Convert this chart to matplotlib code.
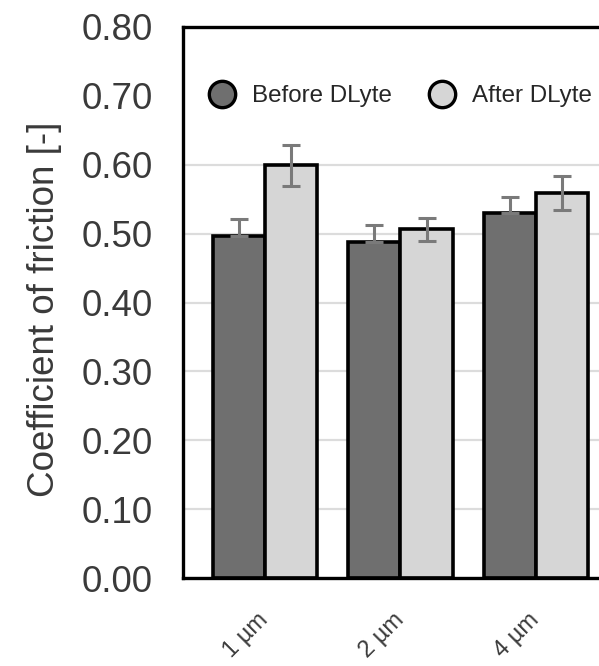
import matplotlib
matplotlib.use("Agg")
import matplotlib.pyplot as plt
import numpy as np
from matplotlib.lines import Line2D
from matplotlib.ticker import FormatStrFormatter

# data
sizes = ["1 \u00b5m", "2 \u00b5m", "4 \u00b5m"]
before = [0.497, 0.488, 0.530]
after = [0.599, 0.506, 0.559]
before_err = [0.024, 0.024, 0.023]
after_err = [0.030, 0.017, 0.024]
yticks = [0.0, 0.1, 0.2, 0.3, 0.4, 0.5, 0.6, 0.7, 0.8]

DARK = "#6f6f6f"
LIGHT = "#d6d6d6"
TXT = "#3a3a3a"
ERR = "#7a7a7a"

plt.rcParams["font.family"] = ["Liberation Sans", "DejaVu Sans"]

fig = plt.figure(figsize=(5.99, 6.66), dpi=100)
ax = fig.add_axes([183 / 599, 1 - 578 / 666, 1 - 183 / 599, (578 - 27) / 666])

x = np.arange(len(sizes))
w = 0.385
ax.bar(x - w / 2, before, w, color=DARK, edgecolor="black", linewidth=2.6, zorder=2)
ax.bar(x + w / 2, after, w, color=LIGHT, edgecolor="black", linewidth=2.6, zorder=2)
ax.errorbar(x - w / 2, before, yerr=[np.zeros(len(before)), before_err], fmt="none",
            ecolor=ERR, elinewidth=2.2, capsize=6.5, capthick=2.2, zorder=3)
ax.errorbar(x + w / 2, after, yerr=after_err, fmt="none",
            ecolor=ERR, elinewidth=2.2, capsize=6.5, capthick=2.2, zorder=3)

ax.set_ylim(0, 0.8)
ax.set_xlim(-0.605, 2.465)
ax.set_yticks(yticks)
ax.yaxis.set_major_formatter(FormatStrFormatter("%.2f"))
ax.tick_params(axis="y", length=0, pad=22, labelsize=26.5, labelcolor=TXT)
ax.set_xticks(x, sizes)
ax.tick_params(axis="x", length=0, pad=28, labelsize=17, labelcolor=TXT)
for lab in ax.get_xticklabels():
    lab.set_rotation(45)
    lab.set_ha("right")
    lab.set_va("center")
    lab.set_rotation_mode("anchor")

ax.set_axisbelow(True)
ax.grid(axis="y", color="#dcdcdc", lw=1.6)
ax.spines["right"].set_visible(False)
for s in ["left", "bottom", "top"]:
    ax.spines[s].set_linewidth(2.4)
    ax.spines[s].set_color("black")

ax.set_ylabel("Coefficient of friction [-]", fontsize=26.5, color=TXT, va="center")
ax.yaxis.set_label_coords(-0.334, 0.488)

handles = [
    Line2D([], [], ls="none", marker="o", markersize=19, markerfacecolor=DARK,
           markeredgecolor="black", markeredgewidth=2.4),
    Line2D([], [], ls="none", marker="o", markersize=19, markerfacecolor=LIGHT,
           markeredgecolor="black", markeredgewidth=2.4),
]
leg = ax.legend(handles, ["Before DLyte", "After DLyte"], ncol=2, loc="center left",
                bbox_to_anchor=(183 / 599, 1 - 96 / 666), bbox_transform=fig.transFigure,
                borderaxespad=0, borderpad=1.12, handlelength=1.0, handletextpad=0.74,
                columnspacing=1.57, fontsize=17.4, frameon=True, fancybox=False,
                facecolor="white", edgecolor="none", framealpha=1)
for t in leg.get_texts():
    t.set_color("#262626")
leg.set_zorder(2)

fig.savefig("out.png", dpi=100, facecolor="white")
